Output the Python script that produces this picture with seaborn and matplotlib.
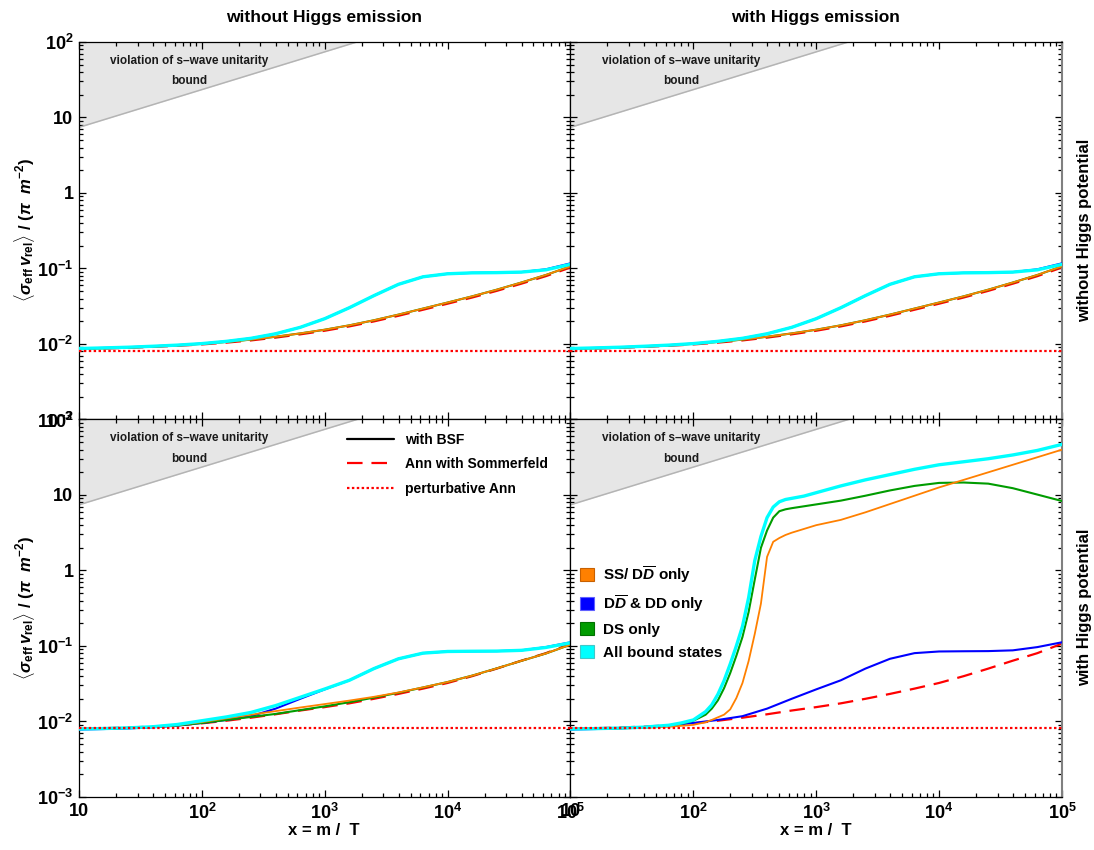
import numpy as np
import matplotlib
matplotlib.use("Agg")
import matplotlib.pyplot as plt
import seaborn as sns
from matplotlib.ticker import FixedLocator, FixedFormatter, LogLocator, NullFormatter
from matplotlib.patches import Patch
from matplotlib.lines import Line2D

sns.set_theme(style="ticks")
plt.rcParams.update({
    "font.family": ["Liberation Sans", "DejaVu Sans"],
    "font.weight": "bold",
    "mathtext.fontset": "custom",
    "mathtext.rm": "Liberation Sans:bold",
    "mathtext.it": "Liberation Sans:italic:bold",
    "mathtext.bf": "Liberation Sans:bold",
    "mathtext.sf": "Liberation Sans:bold",
    "axes.linewidth": 0.9,
    "axes.edgecolor": "black",
    "text.color": "black",
    "axes.labelcolor": "black",
    "xtick.color": "black",
    "ytick.color": "black",
})

# ---------------- data ----------------
# coarse grid (log10 x = 1.0 ... 5.0 in steps of 0.2)
x_coarse = [10, 15.85, 25.12, 39.81, 63.10, 100, 158.5, 251.2, 398.1, 631.0,
            1000, 1585, 2512, 3981, 6310, 10000, 15849, 25119, 39811, 63096, 100000]
# fine grid used for the steep bound-state rise with the Higgs potential
x_fine = [10, 15.85, 25.12, 39.81, 63.10, 79.43, 100, 125.9, 141.3, 158.5, 177.8,
          199.5, 223.9, 251.2, 281.8, 316.2, 354.8, 398.1, 446.7, 501.2, 562.3,
          631.0, 794.3, 1000, 1585, 2512, 3981, 6310, 10000, 15849, 25119,
          39811, 63096, 100000]

x_flat = [10, 100000]
pert_ann = [0.0081, 0.0081]

# without Higgs potential (identical with / without Higgs emission)
somm_nopot = [0.00855, 0.00870, 0.00889, 0.00914, 0.00945, 0.00986, 0.01042, 0.01115,
              0.01214, 0.01341, 0.01498, 0.01709, 0.01990, 0.02363, 0.02841, 0.03416,
              0.04126, 0.05053, 0.06288, 0.07917, 0.1030]
ss_nopot = [0.00861, 0.00877, 0.00897, 0.00925, 0.00959, 0.01005, 0.01064, 0.01143,
            0.01247, 0.01380, 0.01545, 0.01766, 0.02061, 0.02449, 0.02944, 0.03540,
            0.04276, 0.05236, 0.06516, 0.08204, 0.1067]
ds_nopot = [0.00861, 0.00877, 0.00897, 0.00925, 0.00959, 0.01005, 0.01064, 0.01143,
            0.01247, 0.01380, 0.01545, 0.01766, 0.02061, 0.02449, 0.02944, 0.03540,
            0.04276, 0.05236, 0.06516, 0.08204, 0.1067]
dd_nopot = [0.00871, 0.00887, 0.00906, 0.00933, 0.00966, 0.01012, 0.01084, 0.01189,
            0.01365, 0.01660, 0.02163, 0.03020, 0.04365, 0.06166, 0.07762, 0.08511,
            0.08750, 0.08810, 0.08954, 0.09750, 0.1170]
all_nopot = [0.00871, 0.00887, 0.00906, 0.00933, 0.00966, 0.01012, 0.01084, 0.01189,
             0.01365, 0.01660, 0.02163, 0.03020, 0.04365, 0.06166, 0.07762, 0.08511,
             0.08750, 0.08810, 0.08954, 0.09594, 0.1135]

# with Higgs potential, without Higgs emission
somm_pot = [0.00794, 0.00813, 0.00832, 0.00855, 0.00891, 0.00944, 0.01023, 0.01122,
            0.01245, 0.01396, 0.01549, 0.01738, 0.01995, 0.02317, 0.02723, 0.03236,
            0.03981, 0.05012, 0.06383, 0.08035, 0.1072]
dd_pot = [0.00782, 0.00794, 0.00809, 0.00836, 0.00881, 0.00955, 0.01047, 0.01175,
          0.01479, 0.01995, 0.02661, 0.03508, 0.05012, 0.06761, 0.08035, 0.08453,
          0.08511, 0.08551, 0.08750, 0.09661, 0.1119]
all_pot_noem = [0.00794, 0.00806, 0.00822, 0.00851, 0.00912, 0.01023, 0.01148, 0.01318,
                0.01622, 0.02089, 0.02692, 0.03508, 0.05012, 0.06761, 0.08035, 0.08453,
                0.08511, 0.08551, 0.08750, 0.09550, 0.1100]
ds_pot_noem = [0.00794, 0.00806, 0.00822, 0.00846, 0.00885, 0.00955, 0.01047, 0.01148,
               0.01259, 0.01413, 0.01585, 0.01799, 0.02070, 0.02400, 0.02820, 0.03330,
               0.04050, 0.05050, 0.06350, 0.07950, 0.1040]
ss_pot_noem = [0.00794, 0.00806, 0.00822, 0.00850, 0.00895, 0.00980, 0.01100, 0.01230,
               0.01370, 0.01530, 0.01700, 0.01890, 0.02120, 0.02420, 0.02830, 0.03330,
               0.04050, 0.05050, 0.06350, 0.07950, 0.1040]

# with Higgs potential and Higgs emission
all_pot_em = [0.00794, 0.00804, 0.00817, 0.00841, 0.00891, 0.00955, 0.01047, 0.01349,
              0.01660, 0.02291, 0.03467, 0.05754, 0.1000, 0.1820, 0.4365, 1.349, 2.818,
              5.012, 6.918, 8.128, 8.710, 9.016, 9.661, 10.72, 13.18, 15.85, 18.62,
              21.88, 25.12, 27.54, 30.20, 33.88, 38.90, 46.77]
ds_pot_em = [0.00794, 0.00804, 0.00817, 0.00837, 0.00881, 0.00933, 0.01023, 0.01230,
             0.01479, 0.01905, 0.02754, 0.04365, 0.07413, 0.1318, 0.2818, 0.7586, 1.995,
             3.388, 5.012, 6.095, 6.457, 6.683, 7.079, 7.499, 8.414, 9.772, 11.48,
             13.18, 14.45, 14.62, 14.13, 12.30, 10.12, 8.318]
ss_pot_em = [0.00794, 0.00800, 0.00809, 0.00822, 0.00851, 0.00875, 0.00902, 0.00977,
             0.01047, 0.01135, 0.01230, 0.01445, 0.02042, 0.03236, 0.06310, 0.1445, 0.3631,
             1.514, 2.399, 2.692, 2.951, 3.162, 3.548, 3.981, 4.677, 5.888, 7.586,
             9.772, 12.59, 15.85, 19.95, 25.12, 31.62, 39.81]

# s-wave unitarity bound
bound_x = [10, 100000]
bound_y = [7.4, 740]

col_titles = ["without Higgs emission", "with Higgs emission"]
row_titles = ["without Higgs potential", "with Higgs potential"]
xtick_vals = [10, 100, 1000, 10000, 100000]
xtick_labels = ["10", r"$10^{2}$", r"$10^{3}$", r"$10^{4}$", r"$10^{5}$"]
ytick_vals = [1e-3, 1e-2, 1e-1, 1, 10, 100]
ytick_labels = [r"$10^{-3}$", r"$10^{-2}$", r"$10^{-1}$", "1", "10", r"$10^{2}$"]

C_SS = "#ff8000"
C_DD = "#0000ff"
C_DS = "#009c00"
C_ALL = "#00ffff"
C_RED = "#ff0000"

panels = {
    (0, 0): dict(xg=x_coarse, somm=somm_nopot, ss=ss_nopot, ds=ds_nopot, dd=dd_nopot,
                 all=all_nopot),
    (0, 1): dict(xg=x_coarse, somm=somm_nopot, ss=ss_nopot, ds=ds_nopot, dd=dd_nopot,
                 all=all_nopot),
    (1, 0): dict(xg=x_coarse, somm=somm_pot, ss=ss_pot_noem, ds=ds_pot_noem, dd=dd_pot,
                 all=all_pot_noem),
    (1, 1): dict(xg=x_fine, somm=somm_pot, ss=ss_pot_em, ds=ds_pot_em, dd=dd_pot,
                 all=all_pot_em),
}

fig, axes = plt.subplots(2, 2, figsize=(10.94, 8.5), dpi=100)
fig.subplots_adjust(left=0.0722, right=0.9707, top=0.9506, bottom=0.0624,
                    wspace=0, hspace=0)

dash_style = (0, (7, 4))
dot_style = (0, (1.1, 1.1))

for (r, c), p in panels.items():
    ax = axes[r, c]
    ax.set_xscale("log")
    ax.set_yscale("log")
    # unitarity-violating region
    ax.fill_between(bound_x, bound_y, [1e4, 1e4], color="#e6e6e6", lw=0, zorder=0)
    ax.plot(bound_x, bound_y, color="#b4b4b4", lw=1.1, zorder=1)
    ax.text(79, 56, "violation of s\u2013wave unitarity", ha="center", va="center",
            fontsize=8.5, color="#1a1a1a")
    ax.text(79, 30, "bound", ha="center", va="center", fontsize=8.5, color="#1a1a1a")

    xg = p["xg"]
    sns.lineplot(x=x_coarse, y=p["somm"], ax=ax, color=C_RED, lw=1.6,
                 linestyle=dash_style, errorbar=None, zorder=2)
    sns.lineplot(x=x_coarse, y=p["dd"], ax=ax, color=C_DD, lw=1.5, errorbar=None, zorder=3)
    sns.lineplot(x=xg, y=p["ds"], ax=ax, color=C_DS, lw=1.5, errorbar=None, zorder=4)
    sns.lineplot(x=xg, y=p["ss"], ax=ax, color=C_SS, lw=1.3, errorbar=None, zorder=5)
    sns.lineplot(x=xg, y=p["all"], ax=ax, color=C_ALL, lw=2.4, errorbar=None, zorder=6)
    sns.lineplot(x=x_flat, y=pert_ann, ax=ax, color=C_RED, lw=1.6,
                 linestyle=dot_style, errorbar=None, zorder=7)

    ax.set_xlim(10, 1e5)
    ax.set_ylim(1e-3, 1e2)
    ax.xaxis.set_major_locator(FixedLocator(xtick_vals))
    ax.yaxis.set_major_locator(FixedLocator(ytick_vals))
    ax.xaxis.set_minor_locator(LogLocator(base=10, subs=np.arange(2, 10), numticks=20))
    ax.yaxis.set_minor_locator(LogLocator(base=10, subs=np.arange(2, 10), numticks=20))
    ax.xaxis.set_minor_formatter(NullFormatter())
    ax.yaxis.set_minor_formatter(NullFormatter())
    if r == 1:
        ax.xaxis.set_major_formatter(FixedFormatter(xtick_labels))
    else:
        ax.xaxis.set_major_formatter(NullFormatter())
    if c == 0:
        ax.yaxis.set_major_formatter(FixedFormatter(ytick_labels))
    else:
        ax.yaxis.set_major_formatter(NullFormatter())
    ax.tick_params(which="both", direction="in", top=True, right=True,
                   labelsize=13, width=0.9, colors="black")
    ax.tick_params(which="major", length=5, pad=4)
    ax.tick_params(which="minor", length=3)
    if c == 1:
        ax.spines["right"].set_color("#808080")
        ax.spines["right"].set_linewidth(1.5)
    ax.set_xlabel("")
    ax.set_ylabel("")

# legends
axes[1, 0].legend(
    handles=[Line2D([], [], color="black", lw=1.6),
             Line2D([], [], color=C_RED, lw=1.6, linestyle=dash_style),
             Line2D([], [], color=C_RED, lw=1.6, linestyle=dot_style)],
    labels=["with BSF", "Ann with Sommerfeld", "perturbative Ann"],
    loc="upper left", bbox_to_anchor=(0.545, 0.965), frameon=False,
    fontsize=10, handlelength=3.4, labelspacing=0.75, handletextpad=0.8,
    borderpad=0, borderaxespad=0)

axes[1, 1].legend(
    handles=[Patch(facecolor=C_SS, edgecolor="#c86000", lw=0.8),
             Patch(facecolor=C_DD, edgecolor="#6060ff", lw=0.8),
             Patch(facecolor=C_DS, edgecolor="#007000", lw=0.8),
             Patch(facecolor=C_ALL, edgecolor="#40c8c8", lw=0.8)],
    labels=[r"SS/ D$\overline{D}$ only", r"D$\overline{D}$ & DD only", "DS only",
            "All bound states"],
    loc="upper left", bbox_to_anchor=(0.02, 0.617), frameon=False,
    fontsize=11, handlelength=0.9, handleheight=0.9, labelspacing=0.55,
    handletextpad=0.6, borderpad=0, borderaxespad=0)

# column and row titles, axis labels
for c, t in enumerate(col_titles):
    cx = 0.2962 if c == 0 else 0.7457
    fig.text(cx, 0.979, t, ha="center", va="center", fontsize=12.5)
    fig.text(cx, 0.0235, "x = m /  T", ha="center", va="center", fontsize=12)
for r, t in enumerate(row_titles):
    cy = 0.7294 if r == 0 else 0.2853
    fig.text(0.9915, cy, t, ha="center", va="center", rotation=90, fontsize=12)
    fig.text(0.022, cy, r"$\langle\sigma_{\rm eff}\,v_{\rm rel}\rangle$ / ($\pi$  $m^{-2}$)",
             ha="center", va="center", rotation=90, fontsize=12)

fig.savefig("out.png", dpi=100)
